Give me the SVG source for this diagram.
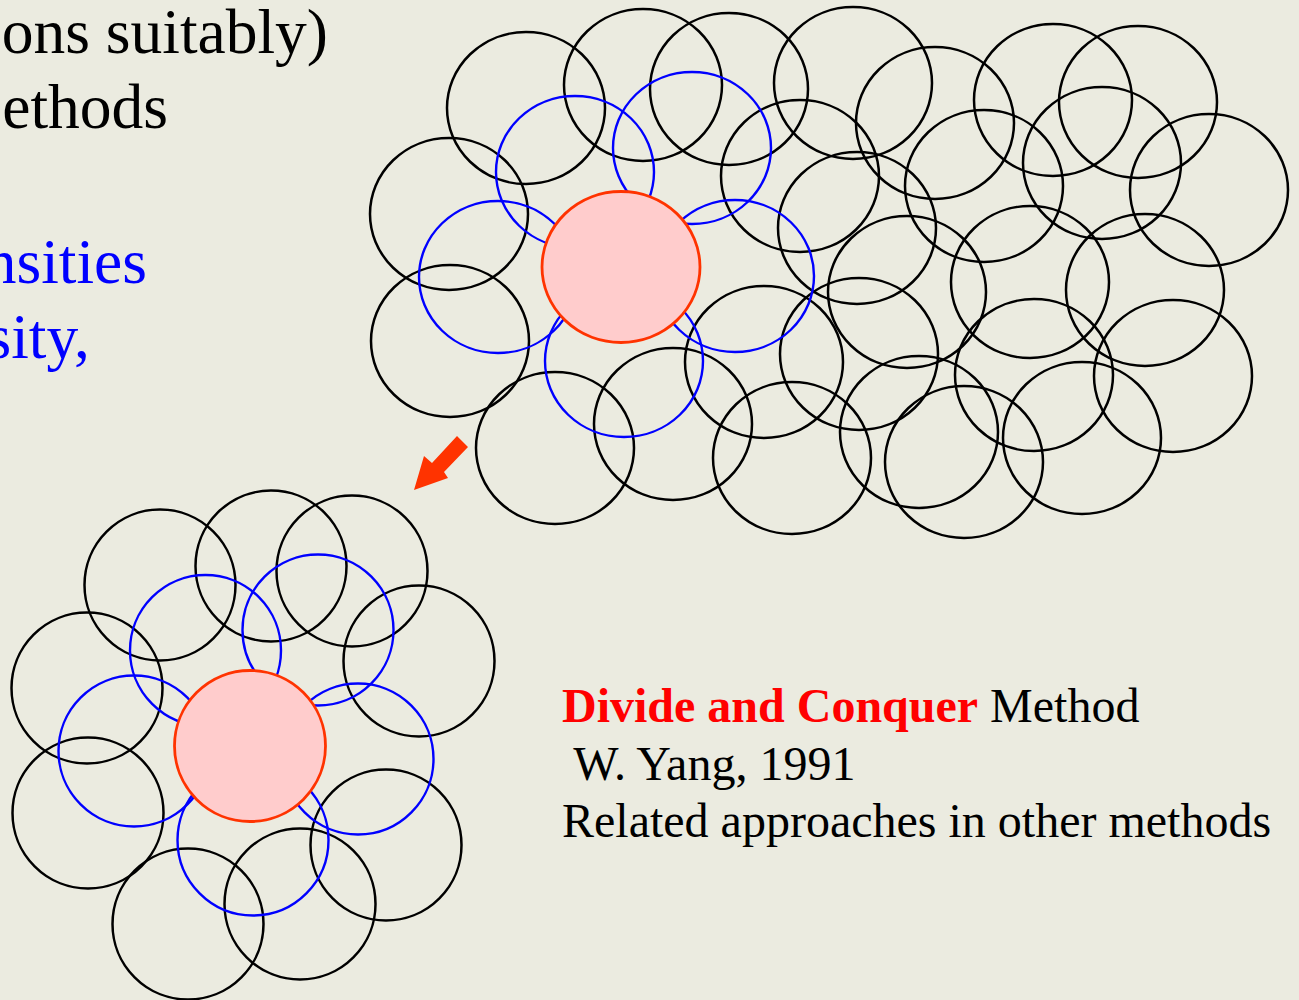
<svg xmlns="http://www.w3.org/2000/svg" width="1299" height="1000" viewBox="0 0 1299 1000">
<style>
.bk{fill:none;stroke:#000;stroke-width:2.5}
.bl{fill:none;stroke:#0000FF;stroke-width:2.4}
.rd{fill:#FFCCCC;stroke:#FF3300;stroke-width:2.8}
</style>
<rect width="1299" height="1000" fill="#EBEBE0"/>
<g id="top-left-text" font-family="'Liberation Serif', 'Times New Roman', Times, serif" font-size="63.5" text-anchor="end">
<text x="328" y="53" fill="#000">ons suitably)</text>
<text x="168" y="128" fill="#000">ethods</text>
<text x="147" y="283" fill="#0000FF">nsities</text>
<text x="90" y="358" fill="#0000FF">sity,</text>
</g>
<g id="large-cluster">
<g class="bk">
<ellipse cx="526" cy="108" rx="79" ry="76"/>
<ellipse cx="643" cy="85" rx="79" ry="76"/>
<ellipse cx="729" cy="89" rx="79" ry="76"/>
<ellipse cx="853" cy="83" rx="79" ry="76"/>
<ellipse cx="935" cy="123" rx="79" ry="76"/>
<ellipse cx="1053" cy="100" rx="79" ry="76"/>
<ellipse cx="1138" cy="102" rx="79" ry="76"/>
<ellipse cx="1102" cy="163" rx="79" ry="76"/>
<ellipse cx="1209" cy="190" rx="79" ry="76"/>
<ellipse cx="800" cy="176" rx="79" ry="76"/>
<ellipse cx="857" cy="228" rx="79" ry="76"/>
<ellipse cx="984" cy="186" rx="79" ry="76"/>
<ellipse cx="449" cy="214" rx="79" ry="76"/>
<ellipse cx="907" cy="292" rx="79" ry="76"/>
<ellipse cx="1030" cy="282" rx="79" ry="76"/>
<ellipse cx="1145" cy="290" rx="79" ry="76"/>
<ellipse cx="450" cy="341" rx="79" ry="76"/>
<ellipse cx="764" cy="362" rx="79" ry="76"/>
<ellipse cx="859" cy="354" rx="79" ry="76"/>
<ellipse cx="1034" cy="375" rx="79" ry="76"/>
<ellipse cx="1173" cy="376" rx="79" ry="76"/>
<ellipse cx="555" cy="448" rx="79" ry="76"/>
<ellipse cx="673" cy="424" rx="79" ry="76"/>
<ellipse cx="792" cy="458" rx="79" ry="76"/>
<ellipse cx="919" cy="432" rx="79" ry="76"/>
<ellipse cx="964" cy="462" rx="79" ry="76"/>
<ellipse cx="1082" cy="438" rx="79" ry="76"/>
</g>
<g class="bl">
<ellipse cx="575" cy="172" rx="79" ry="76"/>
<ellipse cx="692" cy="148" rx="79" ry="76"/>
<ellipse cx="498" cy="277" rx="79" ry="76"/>
<ellipse cx="624" cy="361" rx="79" ry="76"/>
<ellipse cx="735" cy="276" rx="79" ry="76"/>
</g>
<ellipse id="large-center" class="rd" cx="621" cy="267" rx="79" ry="75.5"/>
</g>
<g id="arrow">
<polygon points="457,436 468,447 444,472 448,478 414,490 424,456 432,463" fill="#FF3300"/>
</g>
<g id="small-cluster">
<g class="bk">
<circle cx="160" cy="585" r="75.5"/>
<circle cx="271" cy="566" r="75.5"/>
<circle cx="352" cy="571" r="75.5"/>
<circle cx="419" cy="661" r="75.5"/>
<circle cx="87" cy="688" r="75.5"/>
<circle cx="88" cy="813" r="75.5"/>
<circle cx="386" cy="845" r="75.5"/>
<circle cx="188" cy="924" r="75.5"/>
<circle cx="300" cy="904" r="75.5"/>
</g>
<g class="bl">
<circle cx="205.5" cy="650.5" r="75.5"/>
<circle cx="318" cy="630" r="75.5"/>
<circle cx="134" cy="751" r="75.5"/>
<circle cx="358" cy="759" r="75.5"/>
<circle cx="253" cy="840" r="75.5"/>
</g>
<circle id="small-center" class="rd" cx="250" cy="746" r="75.5"/>
</g>
<g id="caption" font-family="'Liberation Serif', 'Times New Roman', Times, serif" font-size="48" fill="#000">
<text x="562" y="722"><tspan fill="#FF0000" font-weight="bold">Divide and Conquer</tspan> Method</text>
<text x="562" y="780" xml:space="preserve"> W. Yang, 1991</text>
<text x="562" y="837">Related approaches in other methods</text>
</g>
</svg>
